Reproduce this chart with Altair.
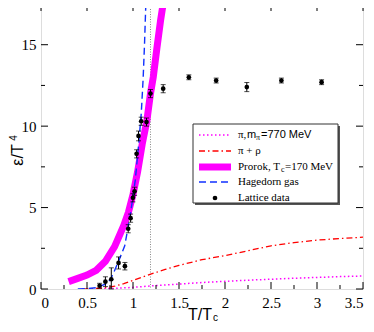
import altair as alt
import pandas as pd

# ---------------- data ----------------
prorok_x = [0.30, 0.40, 0.50, 0.60, 0.70, 0.80, 0.90, 0.95, 1.00, 1.05, 1.10, 1.15, 1.19, 1.22, 1.26, 1.30, 1.33]
prorok_y = [0.45, 0.65, 0.85, 1.15, 1.70, 2.60, 3.90, 4.70, 5.80, 7.20, 8.90, 10.3, 12.0, 13.0, 14.8, 16.5, 17.6]

hag_x = [0.40, 0.50, 0.60, 0.70, 0.75, 0.79, 0.85, 0.91, 0.975, 1.025, 1.06, 1.09, 1.11, 1.125, 1.14]
hag_y = [0.00, 0.02, 0.08, 0.30, 0.55, 1.00, 1.80, 2.65, 4.70, 6.70, 8.80, 10.8, 12.9, 15.0, 17.6]

pirho_x = [0.45, 0.60, 0.70, 0.80, 0.90, 1.00, 1.10, 1.20, 1.35, 1.50, 1.75, 2.00, 2.25, 2.50, 2.75, 3.00, 3.25, 3.50]
pirho_y = [0.00, 0.03, 0.08, 0.17, 0.33, 0.53, 0.73, 0.93, 1.20, 1.45, 1.80, 2.05, 2.35, 2.65, 2.85, 3.00, 3.10, 3.18]

pi_x = [0.60, 0.80, 1.00, 1.20, 1.50, 1.75, 2.00, 2.25, 2.50, 2.75, 3.00, 3.25, 3.50]
pi_y = [0.00, 0.04, 0.10, 0.19, 0.30, 0.40, 0.47, 0.54, 0.60, 0.66, 0.71, 0.76, 0.80]

lat_x = [0.637, 0.70, 0.764, 0.843, 0.912, 0.948, 0.974, 0.999, 1.017, 1.039, 1.06, 1.089, 1.147, 1.19, 1.328, 1.607, 1.904, 2.237, 2.613, 3.05]
lat_y = [0.20, 0.45, 0.60, 1.60, 1.40, 3.70, 4.35, 5.60, 6.00, 8.30, 9.40, 10.3, 10.25, 12.0, 12.3, 13.0, 12.8, 12.4, 12.8, 12.7]
lat_err = [0.15, 0.30, 0.70, 0.37, 0.23, 0.25, 0.25, 0.25, 0.25, 0.25, 0.30, 0.25, 0.25, 0.25, 0.25, 0.15, 0.15, 0.28, 0.15, 0.15]

tc_line_x = [1.19]

x_major = [0, 0.5, 1, 1.5, 2, 2.5, 3, 3.5]
x_minor = [0.25, 0.75, 1.25, 1.75, 2.25, 2.75, 3.25]
y_major = [0, 5, 10, 15]
y_minor = [2.5, 7.5, 12.5]

# ---------------- layout ----------------
W, H = 322, 285
MAJ, MIN = 7, 4
SERIF = "Liberation Serif"
SANS = "Liberation Sans"

xs = alt.Scale(domain=[0, 3.5], nice=False, zero=False)
ys = alt.Scale(domain=[0, 17.5], nice=False, zero=False)

XAX = alt.Axis(values=x_major, format="~g", tickSize=0, labelFont=SERIF, labelFontSize=15,
               labelColor="black", labelPadding=6, domain=False, grid=False, title="")
YAX = alt.Axis(values=y_major, format="~g", tickSize=0, labelFont=SERIF, labelFontSize=15,
               labelColor="black", labelPadding=5, domain=False, grid=False, title="")

one = pd.DataFrame({"a": [0]})


def X(f="x"):
    return alt.X(f"{f}:Q", scale=xs, axis=XAX)


def Y(f="y"):
    return alt.Y(f"{f}:Q", scale=ys, axis=YAX)


def line(xv, yv, **kw):
    df = pd.DataFrame({"x": xv, "y": yv})
    return alt.Chart(df).mark_line(clip=True, **kw).encode(x=X(), y=Y(), order="x:Q")


layers = []

# T_c vertical dotted line
layers.append(
    alt.Chart(pd.DataFrame({"x": tc_line_x})).mark_rule(color="#888888", strokeWidth=1, strokeDash=[1, 1.5])
    .encode(x=X(), y=alt.value(0), y2=alt.value(H))
)

PI_STYLE = dict(color="#ff00ff", strokeWidth=1.5, strokeDash=[1.5, 2.5])
PIRHO_STYLE = dict(color="#ff0000", strokeWidth=1.3, strokeDash=[6, 3, 1.5, 3])
PROROK_STYLE = dict(color="#ff00ff", strokeWidth=7, strokeCap="butt")
HAG_STYLE = dict(color="#1030ff", strokeWidth=1.4, strokeDash=[7, 4])

layers.append(line(pi_x, pi_y, **PI_STYLE))
layers.append(line(pirho_x, pirho_y, **PIRHO_STYLE))
layers.append(line(prorok_x, prorok_y, **PROROK_STYLE))
layers.append(line(hag_x, hag_y, **HAG_STYLE))

# lattice data with error bars
lat = pd.DataFrame({"x": lat_x, "y": lat_y, "e": lat_err})
lat["lo"] = (lat["y"] - lat["e"]).clip(lower=0)
lat["hi"] = lat["y"] + lat["e"]
err = alt.Chart(lat)
layers.append(err.mark_rule(color="black", strokeWidth=1).encode(x=X(), y=Y("lo"), y2="hi:Q"))
layers.append(err.mark_tick(color="black", orient="horizontal", size=5, thickness=1).encode(x=X(), y=Y("lo")))
layers.append(err.mark_tick(color="black", orient="horizontal", size=5, thickness=1).encode(x=X(), y=Y("hi")))
layers.append(err.mark_circle(color="black", size=22, opacity=1).encode(x=X(), y=Y()))


# inward ticks
def xticks(vals, L):
    d = alt.Chart(pd.DataFrame({"x": vals}))
    return [d.mark_rule(color="black").encode(x=X(), y=alt.value(H), y2=alt.value(H - L)),
            d.mark_rule(color="black").encode(x=X(), y=alt.value(0), y2=alt.value(L))]


def yticks(vals, L):
    d = alt.Chart(pd.DataFrame({"y": vals}))
    return [d.mark_rule(color="black").encode(y=Y(), x=alt.value(0), x2=alt.value(L)),
            d.mark_rule(color="black").encode(y=Y(), x=alt.value(W), x2=alt.value(W - L))]


layers += xticks(x_major, MAJ) + xticks(x_minor, MIN) + yticks(y_major, MAJ) + yticks(y_minor, MIN)

# legend box
LX0, LX1, LY0, LY1 = 152, 297, 120, 199
layers.append(alt.Chart(one).mark_rect(fill="#555555")
              .encode(x=alt.value(LX0 + 2), x2=alt.value(LX1 + 2), y=alt.value(LY0 + 2), y2=alt.value(LY1 + 2)))
layers.append(alt.Chart(one).mark_rect(fill="white", stroke="#333333", strokeWidth=1)
              .encode(x=alt.value(LX0), x2=alt.value(LX1), y=alt.value(LY0), y2=alt.value(LY1)))
rows = [131, 147, 163, 178, 194]
SX0, SX1, TX = 158, 190, 197
for ry, st in zip(rows[:4], [PI_STYLE, PIRHO_STYLE, PROROK_STYLE, HAG_STYLE]):
    layers.append(alt.Chart(one).mark_rule(**st).encode(x=alt.value(SX0), x2=alt.value(SX1), y=alt.value(ry)))
layers.append(alt.Chart(one).mark_circle(color="black", size=22, opacity=1)
              .encode(x=alt.value((SX0 + SX1) / 2), y=alt.value(rows[4])))


def txt(s, x, y, size=11, font=SERIF, **kw):
    return alt.Chart(one).mark_text(text=s, font=font, fontSize=size, align="left", baseline="middle",
                                    color="black", **kw).encode(x=alt.value(x), y=alt.value(y))


layers.append(txt("π,", TX, rows[0]))
layers.append(txt("m", TX + 9, rows[0], font=SANS))
layers.append(txt("π", TX + 18, rows[0] + 3, size=8))
layers.append(txt("=770 MeV", TX + 23, rows[0], font=SANS))
layers.append(txt("π + ρ", TX, rows[1]))
layers.append(txt("Prorok, T", TX, rows[2]))
layers.append(txt("c", TX + 43, rows[2] + 3, size=8))
layers.append(txt("=170 MeV", TX + 47, rows[2]))
layers.append(txt("Hagedorn gas", TX, rows[3]))
layers.append(txt("Lattice data", TX, rows[4]))

# axis titles
layers.append(txt("T/T", 147, 311, size=16, font=SANS))
layers.append(txt("c", 172, 314, size=10, font=SANS))
layers.append(alt.Chart(one).mark_text(text="ε/T", font=SANS, fontSize=16, angle=270, align="center",
                                       baseline="middle", color="black")
              .encode(x=alt.value(-23), y=alt.value(151)))
layers.append(alt.Chart(one).mark_text(text="4", font=SANS, fontSize=10, angle=270, align="center",
                                       baseline="middle", color="black")
              .encode(x=alt.value(-27), y=alt.value(134)))

chart = alt.layer(*layers).properties(
    width=W, height=H, autosize=alt.AutoSizeParams(type="none"),
    padding={"left": 33, "top": -4, "right": 3, "bottom": 35},
).configure_view(stroke="black", strokeWidth=1).configure(background="white")

chart.save("out.html", embed_options={"renderer": "svg", "actions": False})
